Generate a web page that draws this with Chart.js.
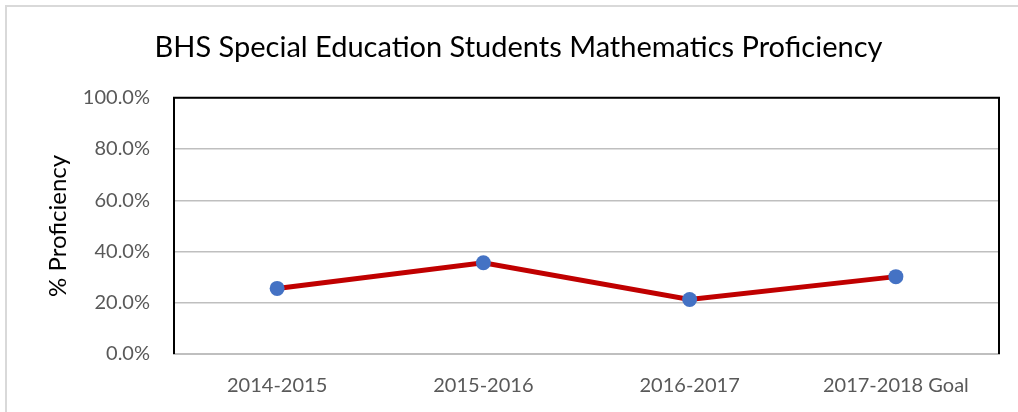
<!DOCTYPE html>
<html>
<head>
<meta charset="utf-8">
<script src="https://cdn.jsdelivr.net/npm/chart.js@4/dist/chart.umd.min.js"></script>
<style>
  html, body { margin: 0; padding: 0; background: #fff; }
  #wrap { width: 1018px; height: 412px; }
</style>
</head>
<body>
<div id="wrap"><canvas id="c" width="1018" height="412"></canvas></div>
<script>
const categories = ["2014-2015", "2015-2016", "2016-2017", "2017-2018 Goal"];
const proficiency = [25.6, 35.6, 21.3, 30.2];
const titleText = "BHS Special Education Students Mathematics Proficiency";
const yAxisTitle = "% Proficiency";
const yTickValues = [0, 20, 40, 60, 80, 100];

const FONT = "Lato, 'Open Sans', sans-serif";

const frame = {
  id: 'frame',
  beforeDraw(chart) {
    const ctx = chart.ctx;
    ctx.save();
    ctx.fillStyle = '#fff';
    ctx.fillRect(0, 0, chart.width, chart.height);
    ctx.strokeStyle = '#d9d9d9';
    ctx.lineWidth = 2;
    ctx.strokeRect(6, 6, chart.width + 10, chart.height + 10);
    ctx.restore();
  },
  beforeDatasetsDraw(chart) {
    const a = chart.chartArea;
    const ctx = chart.ctx;
    ctx.save();
    ctx.strokeStyle = '#000';
    ctx.lineWidth = 2;
    ctx.beginPath();
    ctx.moveTo(a.left, a.bottom);
    ctx.lineTo(a.left, a.top);
    ctx.lineTo(a.right, a.top);
    ctx.lineTo(a.right, a.bottom);
    ctx.stroke();
    ctx.restore();
  }
};

new Chart(document.getElementById('c'), {
  type: 'line',
  data: {
    labels: categories,
    datasets: [{
      data: proficiency,
      borderColor: '#C00000',
      borderWidth: 5,
      pointBackgroundColor: '#4472C4',
      pointBorderWidth: 0,
      pointRadius: 7.5,
      pointHoverRadius: 7.5,
      tension: 0,
      clip: false
    }]
  },
  options: {
    responsive: false,
    animation: false,
    layout: { padding: { left: 38, right: 19, top: 0, bottom: 0 } },
    plugins: {
      legend: { display: false },
      tooltip: { enabled: false },
      title: {
        display: true,
        text: titleText,
        color: '#000',
        font: { family: FONT, size: 29, weight: 'normal', lineHeight: 1.2 },
        padding: { top: 30, bottom: 33 }
      }
    },
    scales: {
      x: {
        offset: true,
        grid: { display: false, drawTicks: false },
        border: { display: true, color: '#bfbfbf', width: 2 },
        ticks: {
          color: '#595959',
          font: { family: FONT, size: 20 },
          padding: 20,
          maxRotation: 0
        },
        afterFit(s) { s.height = 58; }
      },
      y: {
        min: 0,
        max: 100,
        afterBuildTicks(s) { s.ticks = yTickValues.map(v => ({ value: v })); },
        grid: { color: '#bfbfbf', lineWidth: 1.5, drawTicks: false },
        border: { display: false },
        ticks: {
          color: '#595959',
          font: { family: FONT, size: 20 },
          padding: 24,
          callback: v => v.toFixed(1) + '%'
        },
        title: {
          display: true,
          text: yAxisTitle,
          color: '#000',
          font: { family: FONT, size: 24, lineHeight: 1.2 },
          padding: { top: 6, bottom: 0 }
        },
        afterFit(s) { s.width = 136; }
      }
    }
  },
  plugins: [frame]
});
</script>
</body>
</html>
